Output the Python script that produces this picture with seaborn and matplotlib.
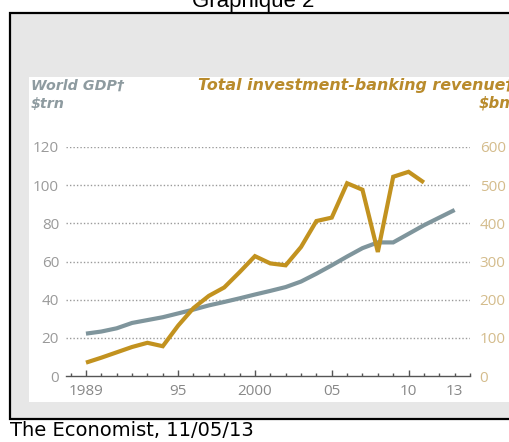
import matplotlib
matplotlib.use("Agg")
import matplotlib.pyplot as plt
import seaborn as sns
import pandas as pd
from matplotlib.patches import Rectangle
from matplotlib.ticker import MultipleLocator

# ---- data ----
years = list(range(1989, 2014))
gdp = [22.2, 23.3, 25.0, 27.8, 29.3, 30.8, 32.8, 34.8, 37.0, 38.8, 40.7, 42.7,
       44.6, 46.6, 49.5, 53.6, 58.0, 62.6, 67.0, 70.0, 70.0, 74.5, 79.0, 83.0, 87.0]
rev_years = list(range(1989, 2012))
revenue = [35, 48, 62, 76, 87, 78, 132, 178, 210, 232, 272, 314, 295, 290, 338,
           406, 415, 505, 488, 325, 522, 535, 507]
xtick_vals = [1989, 1995, 2000, 2005, 2010, 2013]
xtick_labels = ["1989", "95", "2000", "05", "10", "13"]
left_ticks = [0, 20, 40, 60, 80, 100, 120]
right_ticks = [0, 100, 200, 300, 400, 500, 600]

df_gdp = pd.DataFrame({"year": years, "gdp": gdp})
df_rev = pd.DataFrame({"year": rev_years, "revenue": revenue})

sns.set_theme(style="white")
plt.rcParams["font.family"] = ["Open Sans", "DejaVu Sans"]

W, H = 509, 442
fig = plt.figure(figsize=(W / 100, H / 100), dpi=100)
fig.patch.set_facecolor("white")

def fx(px):
    return px / W

def fy(py):
    return 1 - py / H

# outer framed gray box
fig.patches.append(Rectangle((fx(10), fy(419)), fx(520) - fx(10), fy(13) - fy(419),
                             transform=fig.transFigure, facecolor="#e7e7e7",
                             edgecolor="black", linewidth=1.6, zorder=-3))
# white panel
fig.patches.append(Rectangle((fx(29), fy(402)), fx(520) - fx(29), fy(77) - fy(402),
                             transform=fig.transFigure, facecolor="white",
                             edgecolor="none", zorder=-2))

gray = "#7f959c"
gold = "#c2921f"

ax = fig.add_axes([fx(66), fy(376), fx(470) - fx(66), fy(147) - fy(376)])
ax.patch.set_visible(False)
ax2 = ax.twinx()
ax2.patch.set_visible(False)

sns.lineplot(data=df_gdp, x="year", y="gdp", ax=ax, color=gray, linewidth=3.0,
             solid_capstyle="butt", solid_joinstyle="miter", clip_on=False, zorder=3)
sns.lineplot(data=df_rev, x="year", y="revenue", ax=ax2, color=gold, linewidth=3.0,
             solid_capstyle="butt", solid_joinstyle="miter", clip_on=False, zorder=3)

ax.set_xlim(1987.7, 2014.0)
ax.set_ylim(0, 120)
ax2.set_ylim(0, 600)

for a in (ax, ax2):
    for s in a.spines.values():
        s.set_visible(False)
    a.set_xlabel("")
    a.set_ylabel("")

ax.spines["bottom"].set_visible(True)
ax.spines["bottom"].set_color("#555555")
ax.spines["bottom"].set_linewidth(1.0)

# grid lines
for v in left_ticks[1:]:
    ax.axhline(v, color="#9a9a9a", linewidth=1.0, linestyle=(0, (1, 1.5)), zorder=0.8)

ax.set_yticks(left_ticks)
ax.set_yticklabels([str(v) for v in left_ticks])
ax.tick_params(axis="y", length=0, pad=5, labelsize=11, labelcolor="#9a9a9a")
ax2.set_yticks(right_ticks)
ax2.set_yticklabels([str(v) for v in right_ticks])
ax2.tick_params(axis="y", length=0, pad=7, labelsize=11, labelcolor="#d4bc8c")

ax.set_xticks(xtick_vals)
ax.set_xticklabels(xtick_labels)
ax.xaxis.set_minor_locator(MultipleLocator(1))
ax.tick_params(axis="x", which="major", direction="in", length=4.5, width=1.0,
               color="#555555", labelsize=11, labelcolor="#888888", pad=6, bottom=True)
ax.tick_params(axis="x", which="minor", direction="in", length=2.5, width=1.0,
               color="#555555", bottom=True)
ax.xaxis.get_major_ticks()[-1].tick1line.set_markersize(2.5)
ax2.tick_params(axis="x", length=0)

# axis titles
lab = dict(fontweight="bold", fontstyle="italic", family=["DejaVu Sans"], va="baseline")
fig.text(fx(31), fy(90), "World GDP\u2020", ha="left", color="#8e9ba0", fontsize=10.3, **lab)
fig.text(fx(31), fy(108), "$trn", ha="left", color="#8e9ba0", fontsize=10.3, **lab)
fig.text(fx(513), fy(90), "Total investment-banking revenue\u2020", ha="right",
         color="#b98b2c", fontsize=11.4, **lab)
fig.text(fx(510), fy(108), "$bn", ha="right", color="#b98b2c", fontsize=10.8, **lab)

# title and source
fig.text(fx(253), fy(7), "Graphique 2", ha="center", va="baseline",
         fontsize=16, family=["Liberation Sans", "DejaVu Sans"], color="black")
fig.text(fx(10), fy(436), "The Economist, 11/05/13", ha="left", va="baseline",
         fontsize=14, family=["DejaVu Sans"], color="black")

fig.savefig("out.png", dpi=100)
